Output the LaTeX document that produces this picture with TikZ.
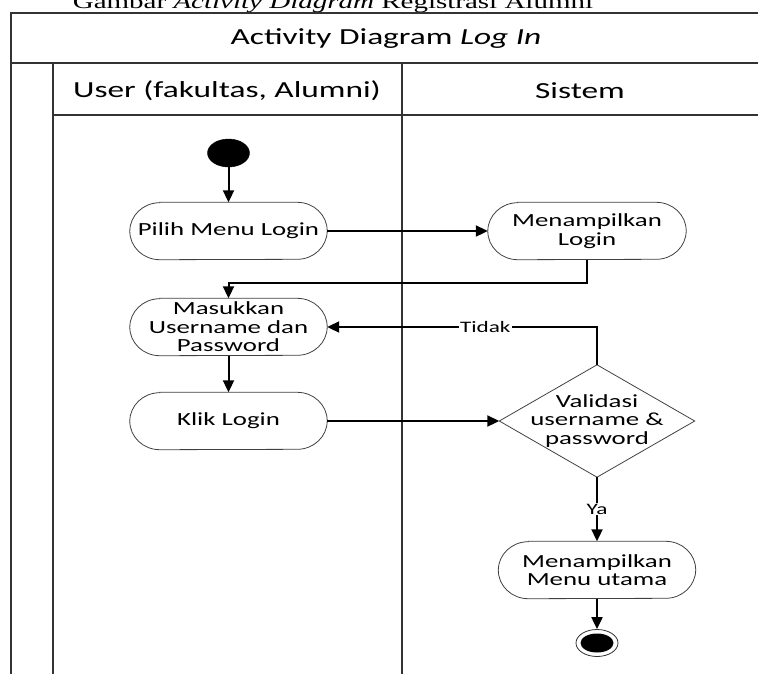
\documentclass[tikz,border=0pt]{standalone}
\usepackage{fontspec}
\usetikzlibrary{arrows.meta,shapes.geometric}
\newfontfamily\dfont[FakeStretch=1.45]{Carlito}
\newfontfamily\capfont[FakeStretch=1.45]{Liberation Serif}
\tikzset{
 lane/.style={line width=1.6pt, draw=black!80},
 conn/.style={line width=2pt, -{Triangle[length=12pt,width=11pt]}},
 box/.style={inner sep=0pt, minimum height=57pt, align=center, font=\dfont\fontsize{18.5}{18.5}\selectfont},
 outline/.style={draw=black!75, line width=0.8pt},
 lbl/.style={fill=white, inner sep=1pt, font=\dfont\fontsize{16}{18}\selectfont},
 hdr/.style={font=\dfont\fontsize{23}{26}\selectfont}
}
\newcommand\actbox[5]{%
 \node[box, minimum width=#4] (#1) at (#2,#3) {#5};
 \draw[outline] ([xshift=30pt]#1.north west) -- ([xshift=-30pt]#1.north east)
   arc[start angle=90,end angle=-90,x radius=30pt,y radius=28.5pt]
   -- ([xshift=30pt]#1.south west)
   arc[start angle=270,end angle=90,x radius=30pt,y radius=28.5pt] -- cycle;}
\begin{document}
\begin{tikzpicture}[x=1pt,y=-1pt]
\useasboundingbox (0,0) rectangle (758,673);
% caption (cut off at the top edge, as in the reference)
\node[anchor=base, inner sep=0pt, font=\capfont\fontsize{20}{22}\selectfont] (cap) at (333,8) {Gambar \textit{Activity Diagram} Registrasi Alumni};
% frame
\draw[lane] (11,680) -- (11,13) -- (760,13);
\draw[lane] (11,63) -- (760,63);
\draw[lane] (53,115) -- (760,115);
\draw[lane] (53,63) -- (53,680);
\draw[lane] (402,63) -- (402,680);
\node[hdr] (title) at (386,39) {Activity Diagram \textit{Log In}};
\node[hdr] (lane1) at (227,91) {User (fakultas, Alumni)};
\node[hdr] (lane2) at (580,91) {Sistem};
% nodes
\node[draw, fill=black, ellipse, minimum width=42pt, minimum height=28pt, inner sep=0pt] (start) at (228.5,153) {};
\actbox{pm}{228.5}{231}{197}{Pilih Menu Login}
\actbox{ml}{587}{231}{198}{Menampilkan\\Login}
\actbox{mu}{228.5}{327}{197}{Masukkan\\Username dan\\Password}
\actbox{kl}{228.5}{421}{197}{Klik Login}
\node[box, minimum width=195pt, minimum height=112pt] (val) at (597,421) {Validasi\\username \&\\password};
\draw[outline] (val.north) -- (val.east) -- (val.south) -- (val.west) -- cycle;
\actbox{mm}{597}{570}{197}{Menampilkan\\Menu utama}
\node[draw=black!80, line width=0.8pt, ellipse, minimum width=42pt, minimum height=27pt, inner sep=0pt] (end) at (597,643) {};
\node[fill=black, ellipse, minimum width=33pt, minimum height=19pt, inner sep=0pt] (endin) at (end) {};
% connectors
\draw[conn] (start.south) -- (pm.north);
\draw[conn] (pm.east) -- (ml.west);
\draw[conn] (ml.south) -- ++(0,23) -| (mu.north);
\draw[conn] (val.north) |- node[lbl, pos=0.707] {Tidak} (mu.east);
\draw[conn] (mu.south) -- (kl.north);
\draw[conn] (kl.east) -- (val.west);
\draw[conn] (val.south) -- node[lbl] {Ya} (mm.north);
\draw[conn] (mm.south) -- (end.north);
\end{tikzpicture}
\end{document}
